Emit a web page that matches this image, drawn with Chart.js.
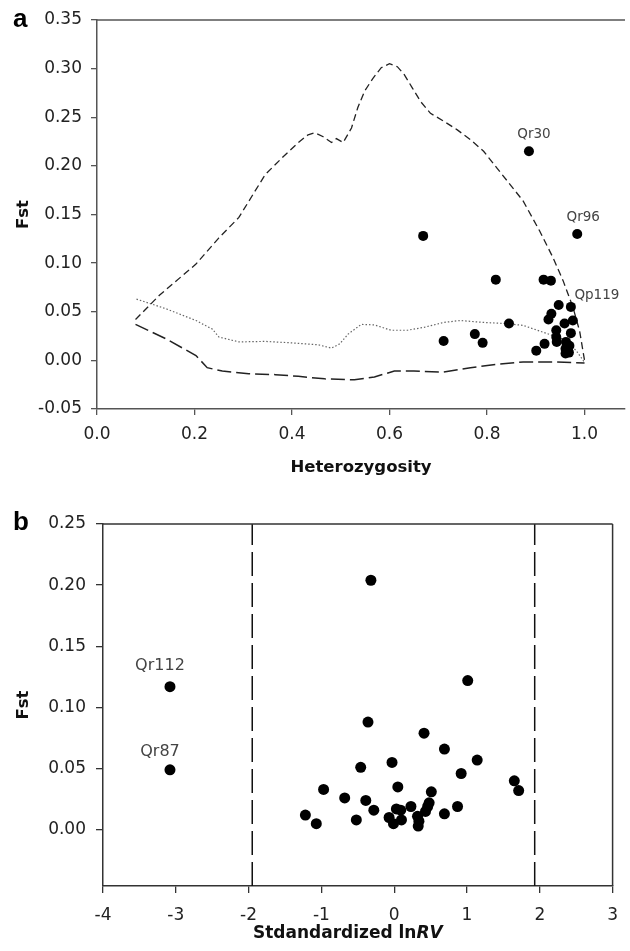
<!DOCTYPE html>
<html>
<head>
<meta charset="utf-8">
<script src="https://cdn.jsdelivr.net/npm/chart.js@4.4.1/dist/chart.umd.min.js"></script>
<style>
  body { margin: 0; background: #fff; }
  canvas { display: block; }
</style>
</head>
<body>
<canvas id="chartA" width="630" height="480"></canvas>
<canvas id="chartB" width="630" height="471"></canvas>
<script>
// ---- Panel a: Fst against heterozygosity ----
const aLociH = [0.886, 0.669, 0.985, 0.818, 0.916, 0.931, 0.947, 0.972, 0.932, 0.926,
                0.976, 0.959, 0.845, 0.942, 0.972, 0.775, 0.942, 0.711, 0.943, 0.791,
                0.918, 0.962, 0.969, 0.901, 0.961, 0.968, 0.961, 0.966, 0.964];
const aLociF = [0.215, 0.128, 0.130, 0.083, 0.083, 0.082, 0.057, 0.055, 0.048, 0.042,
                0.041, 0.038, 0.038, 0.031, 0.028, 0.027, 0.024, 0.020, 0.019, 0.018,
                0.017, 0.019, 0.015, 0.010, 0.012, 0.008, 0.007, 0.011, 0.016];
const aLabelNames = ['Qr30', 'Qr96', 'Qp119'];
const aLabelIdx = [0, 2, 7];

// simulated envelope: upper quantile, median, lower quantile
const upperH = [0.079, 0.128, 0.203, 0.25, 0.291, 0.318, 0.345, 0.379, 0.413, 0.433,
                0.447, 0.464, 0.481, 0.491, 0.505, 0.522, 0.535, 0.549, 0.566, 0.583,
                0.600, 0.616, 0.630, 0.647, 0.664, 0.684, 0.711, 0.739, 0.766, 0.793,
                0.820, 0.847, 0.874, 0.908, 0.935, 0.956, 0.976, 0.990, 1.0];
const upperF = [0.042, 0.067, 0.099, 0.126, 0.147, 0.169, 0.191, 0.208, 0.224, 0.232,
                0.234, 0.230, 0.224, 0.228, 0.224, 0.239, 0.260, 0.277, 0.290, 0.301,
                0.305, 0.302, 0.294, 0.280, 0.266, 0.254, 0.246, 0.237, 0.227, 0.215,
                0.198, 0.181, 0.164, 0.133, 0.106, 0.082, 0.055, 0.030, 0.0];
const medianH = [0.081, 0.142, 0.203, 0.237, 0.25, 0.291, 0.345, 0.399, 0.454, 0.481,
                 0.498, 0.515, 0.542, 0.569, 0.603, 0.637, 0.671, 0.711, 0.745, 0.793,
                 0.834, 0.874, 0.915, 0.956, 0.983, 1.0];
const medianF = [0.063, 0.053, 0.041, 0.032, 0.024, 0.019, 0.0195, 0.018, 0.016, 0.0126,
                 0.017, 0.027, 0.037, 0.0365, 0.031, 0.031, 0.034, 0.039, 0.041, 0.039,
                 0.038, 0.036, 0.029, 0.022, 0.010, -0.002];
const lowerH = [0.079, 0.142, 0.203, 0.226, 0.257, 0.311, 0.366, 0.413, 0.467, 0.528,
                0.569, 0.610, 0.650, 0.711, 0.766, 0.820, 0.874, 0.942, 1.0];
const lowerF = [0.037, 0.022, 0.005, -0.0075, -0.011, -0.0137, -0.0147, -0.0164, -0.019, -0.020,
                -0.017, -0.011, -0.011, -0.012, -0.0075, -0.004, -0.0017, -0.0017, -0.0027];

const aXTicks = [0, 0.2, 0.4, 0.6, 0.8, 1.0];
const aYTicks = [-0.05, 0, 0.05, 0.10, 0.15, 0.20, 0.25, 0.30, 0.35];

// ---- Panel b: Fst against standardized ln RV ----
const bLociRV = [-3.08, -3.08, -0.32, 1.01, -0.36, 0.41, 0.69, 1.14, -0.03, -0.46,
                 0.92, 1.65, 1.71, -0.97, 0.05, 0.51, -0.68, -0.39, -0.28, 0.48,
                 0.46, 0.43, 0.23, 0.03, 0.09, 0.87, 0.69, -1.22, -1.07, -0.52,
                 -0.07, -0.01, 0.10, 0.32, 0.34, 0.33];
const bLociF = [0.117, 0.049, 0.204, 0.122, 0.088, 0.079, 0.066, 0.057, 0.055, 0.051,
                0.046, 0.040, 0.032, 0.033, 0.035, 0.031, 0.026, 0.024, 0.016, 0.022,
                0.019, 0.015, 0.019, 0.017, 0.016, 0.019, 0.013, 0.012, 0.005, 0.008,
                0.010, 0.005, 0.008, 0.011, 0.007, 0.003];
const bLabelNames = ['Qr112', 'Qr87'];
const bLabelIdx = [0, 1];
const bCritical = [-1.95, 1.93];

const bXTicks = [-4, -3, -2, -1, 0, 1, 2, 3];
const bYTicks = [0, 0.05, 0.10, 0.15, 0.20, 0.25];

Chart.defaults.font.family = '"DejaVu Sans", sans-serif';
Chart.defaults.color = '#222';

function pts(xs, ys) {
    return xs.map((x, i) => ({ x: x, y: ys[i] }));
}

function curve(xs, ys, dash, color, width) {
    return {
        data: pts(xs, ys),
        showLine: true,
        borderColor: color,
        borderWidth: width,
        borderDash: dash,
        pointRadius: 0,
        fill: false,
        tension: 0
    };
}

// Build a linear axis with fixed thickness and a fixed tick list
function axis(o) {
    return {
        type: 'linear',
        position: o.position,
        min: o.min,
        max: o.max,
        afterBuildTicks: s => { s.ticks = o.ticks.map(v => ({ value: v })); },
        afterFit: s => {
            if (s.isHorizontal()) s.height = o.size; else s.width = o.size;
        },
        border: { display: true, color: o.color, width: 1.5 },
        grid: { drawOnChartArea: false, drawTicks: true, tickLength: o.tickLength, color: o.color, lineWidth: 1.3 },
        ticks: {
            autoSkip: false,
            maxRotation: 0,
            padding: o.padding,
            font: { size: 17 },
            color: '#222',
            callback: v => o.decimals >= 0 ? Number(v).toFixed(o.decimals) : String(v)
        },
        title: o.title ? {
            display: true,
            text: o.title,
            font: { size: 16.5, weight: 'bold' },
            color: '#111',
            padding: o.titlePadding
        } : { display: false }
    };
}

// frame lines, panel letter, marker labels and mixed-style titles
const extras = {
    id: 'extras',
    afterDraw(chart, args, o) {
        const ctx = chart.ctx;
        const ca = chart.chartArea;
        const xs = chart.scales.x, ys = chart.scales.y;
        ctx.save();

        ctx.strokeStyle = o.frameColor;
        ctx.lineWidth = 1.5;
        ctx.beginPath();
        ctx.moveTo(ca.left, ca.top);
        ctx.lineTo(ca.right, ca.top);
        if (o.rightEdge) {
            ctx.moveTo(ca.right, ca.top);
            ctx.lineTo(ca.right, ca.bottom);
        }
        ctx.stroke();

        ctx.fillStyle = '#000';
        ctx.font = 'bold 26px "Liberation Sans"';
        ctx.textAlign = 'left';
        ctx.textBaseline = 'alphabetic';
        ctx.fillText(o.letter, 13, o.letterY);

        ctx.font = o.labelFont;
        ctx.fillStyle = '#444';
        ctx.textAlign = 'center';
        ctx.textBaseline = 'middle';
        o.names.forEach((name, k) => {
            const i = o.idx[k];
            const px = xs.getPixelForValue(o.xs[i]) + o.offsets[k][0];
            const py = ys.getPixelForValue(o.ys[i]) + o.offsets[k][1];
            ctx.fillText(name, px, py);
        });

        if (o.xTitle) {
            const fPlain = 'bold 17px "DejaVu Sans"';
            const fItal = 'italic bold 17px "DejaVu Sans"';
            ctx.font = fPlain;
            const w1 = ctx.measureText(o.xTitle[0]).width;
            ctx.font = fItal;
            const w2 = ctx.measureText(o.xTitle[1]).width;
            const cx = (ca.left + ca.right) / 2 + o.xTitleShift;
            let x0 = cx - (w1 + w2) / 2;
            ctx.fillStyle = '#111';
            ctx.textAlign = 'left';
            ctx.textBaseline = 'middle';
            ctx.font = fPlain;
            ctx.fillText(o.xTitle[0], x0, o.xTitleY);
            ctx.font = fItal;
            ctx.fillText(o.xTitle[1], x0 + w1, o.xTitleY);
        }
        ctx.restore();
    }
};

const pointStyle = {
    backgroundColor: '#000',
    borderWidth: 0,
    pointStyle: 'circle',
    showLine: false
};

// ---- Chart a ----
new Chart(document.getElementById('chartA'), {
    type: 'scatter',
    data: {
        datasets: [
            Object.assign({ data: pts(aLociH, aLociF), pointRadius: 5 }, pointStyle),
            curve(upperH, upperF, [7, 4], '#222', 1.3),
            curve(medianH, medianF, [1.5, 2], '#666', 1.2),
            curve(lowerH, lowerF, [14, 5], '#222', 1.5)
        ]
    },
    options: {
        responsive: false,
        devicePixelRatio: 1,
        animation: false,
        events: [],
        layout: { padding: { left: 0, right: 0, top: 20, bottom: 0 } },
        plugins: {
            legend: { display: false },
            tooltip: { enabled: false },
            extras: {
                frameColor: '#555',
                rightEdge: false,
                letter: 'a',
                letterY: 27,
                labelFont: '13.5px "DejaVu Sans"',
                names: aLabelNames,
                idx: aLabelIdx,
                xs: aLociH,
                ys: aLociF,
                offsets: [[5, -17], [6, -16], [26, -11]]
            }
        },
        scales: {
            x: axis({ position: 'bottom', min: 0, max: 1.083, ticks: aXTicks, size: 71,
                      color: '#555', tickLength: 6, padding: 9, decimals: 1,
                      title: 'Heterozygosity', titlePadding: { top: 0, bottom: 2 } }),
            y: axis({ position: 'left', min: -0.05, max: 0.35, ticks: aYTicks, size: 97,
                      color: '#555', tickLength: 6, padding: 9, decimals: 2,
                      title: 'Fst', titlePadding: { top: 14, bottom: 0 } })
        }
    },
    plugins: [extras]
});

// ---- Chart b ----
const bYMin = -0.046, bYMax = 0.25;
new Chart(document.getElementById('chartB'), {
    type: 'scatter',
    data: {
        datasets: [
            Object.assign({ data: pts(bLociRV, bLociF), pointRadius: 5.5 }, pointStyle)
        ].concat(bCritical.map(c => curve([c, c], [bYMin, bYMax], [24, 7], '#111', 1.5)))
    },
    options: {
        responsive: false,
        devicePixelRatio: 1,
        animation: false,
        events: [],
        layout: { padding: { left: 0, right: 7, top: 44, bottom: 0 } },
        plugins: {
            legend: { display: false },
            tooltip: { enabled: false },
            extras: {
                frameColor: '#333',
                rightEdge: true,
                letter: 'b',
                letterY: 50,
                labelFont: '16px "DejaVu Sans"',
                names: bLabelNames,
                idx: bLabelIdx,
                xs: bLociRV,
                ys: bLociF,
                offsets: [[-10, -21], [-10, -18]],
                xTitle: ['Stdandardized ln', 'RV'],
                xTitleShift: -10,
                xTitleY: 454
            }
        },
        scales: {
            x: axis({ position: 'bottom', min: -4, max: 3, ticks: bXTicks, size: 65,
                      color: '#333', tickLength: 7, padding: 12, decimals: -1 }),
            y: axis({ position: 'left', min: bYMin, max: bYMax, ticks: bYTicks, size: 103,
                      color: '#333', tickLength: 7, padding: 10, decimals: 2,
                      title: 'Fst', titlePadding: { top: 14, bottom: 0 } })
        }
    },
    plugins: [extras]
});
</script>
</body>
</html>
